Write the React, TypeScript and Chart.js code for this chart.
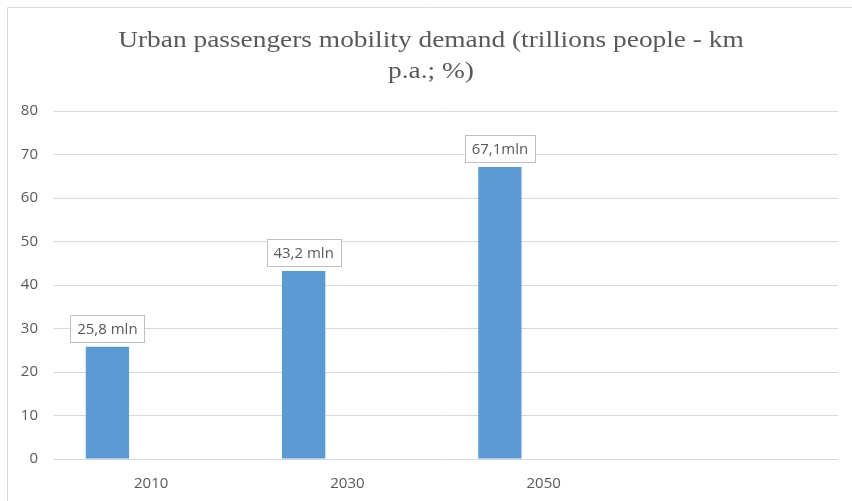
import React, { useEffect, useRef } from "react";
import { Chart, registerables } from "chart.js";

Chart.register(...registerables);

const categories = ["2010", "2030", "2050", ""];
const demandValues: (number | null)[] = [25.8, 43.2, 67.1, null];
const emptySeries: (number | null)[] = [null, null, null, null];
const valueLabels = ["25,8 mln", "43,2 mln", "67,1mln", ""];
const titleLines = ["Urban passengers mobility demand (trillions people - km", "p.a.; %)"];
const yMin = 0;
const yMax = 80;
const yStep = 10;

const labelFont = '15px "Open Sans"';
const textColor = "#595959";

const framePlugin = {
  id: "frame",
  beforeDraw(chart: any) {
    const ctx = chart.ctx;
    ctx.save();
    ctx.fillStyle = "#ffffff";
    ctx.fillRect(0, 0, chart.width, chart.height);
    ctx.strokeStyle = "#D9D9D9";
    ctx.lineWidth = 1;
    ctx.beginPath();
    ctx.moveTo(7.5, chart.height);
    ctx.lineTo(7.5, 7.5);
    ctx.lineTo(chart.width, 7.5);
    ctx.stroke();
    ctx.restore();
  },
};

const titlePlugin = {
  id: "stretchedTitle",
  afterDraw(chart: any) {
    const ctx = chart.ctx;
    ctx.save();
    ctx.font = '23px "Liberation Serif"';
    ctx.fillStyle = textColor;
    ctx.textAlign = "center";
    ctx.textBaseline = "alphabetic";
    const cx = 431;
    const baselines = [47, 78];
    titleLines.forEach((line, i) => {
      ctx.save();
      ctx.translate(cx, baselines[i]);
      ctx.scale(1.19, 1);
      ctx.fillText(line, 0, 0);
      ctx.restore();
    });
    ctx.restore();
  },
};

const valueLabelPlugin = {
  id: "valueLabels",
  afterDatasetsDraw(chart: any) {
    const ctx = chart.ctx;
    const meta = chart.getDatasetMeta(0);
    ctx.save();
    ctx.font = labelFont;
    ctx.textAlign = "center";
    ctx.textBaseline = "middle";
    meta.data.forEach((el: any, i: number) => {
      const text = valueLabels[i];
      if (!text || demandValues[i] == null) return;
      const w = Math.round(ctx.measureText(text).width + 14);
      const h = 27;
      const cx = el.x;
      const bottom = el.y - 5;
      const left = Math.round(cx - w / 2) + 0.5;
      const top = Math.round(bottom - h) + 0.5;
      ctx.fillStyle = "#ffffff";
      ctx.fillRect(left, top, w, h);
      ctx.strokeStyle = "#BFBFBF";
      ctx.lineWidth = 1;
      ctx.strokeRect(left, top, w, h);
      ctx.fillStyle = textColor;
      ctx.fillText(text, cx, top + h / 2 + 1);
    });
    ctx.restore();
  },
};

export default function App() {
  const canvasRef = useRef<HTMLCanvasElement | null>(null);

  useEffect(() => {
    if (!canvasRef.current) return;
    const chart = new Chart(canvasRef.current, {
      type: "bar",
      data: {
        labels: categories,
        datasets: [
          {
            label: "Urban passengers mobility demand",
            data: demandValues,
            backgroundColor: "#5B9BD5",
            categoryPercentage: 0.891,
            barPercentage: 0.495,
          },
          {
            label: "",
            data: emptySeries,
            backgroundColor: "#ED7D31",
            categoryPercentage: 0.891,
            barPercentage: 0.495,
          },
        ],
      },
      options: {
        animation: false,
        responsive: false,
        devicePixelRatio: 1,
        layout: { padding: { left: 0, right: 14, top: 111, bottom: 0 } },
        plugins: {
          legend: { display: false },
          tooltip: { enabled: false },
          title: { display: false },
        },
        scales: {
          x: {
            grid: { display: false },
            border: { display: false },
            ticks: {
              color: textColor,
              font: { family: '"Open Sans"', size: 15 },
              padding: 8,
            },
            afterFit(scale: any) {
              scale.height = 42;
            },
          },
          y: {
            min: yMin,
            max: yMax,
            grid: { color: "#D9D9D9", drawTicks: false },
            border: { display: false },
            ticks: {
              stepSize: yStep,
              color: textColor,
              font: { family: '"Open Sans"', size: 15 },
              padding: 15,
            },
            afterFit(scale: any) {
              scale.width = 53;
            },
          },
        },
      },
      plugins: [framePlugin, valueLabelPlugin, titlePlugin],
    });
    return () => chart.destroy();
  }, []);

  return (
    <div style={{ position: "absolute", left: 0, top: 0, width: 852, height: 501 }}>
      <canvas ref={canvasRef} width={852} height={501} style={{ display: "block" }} />
    </div>
  );
}
